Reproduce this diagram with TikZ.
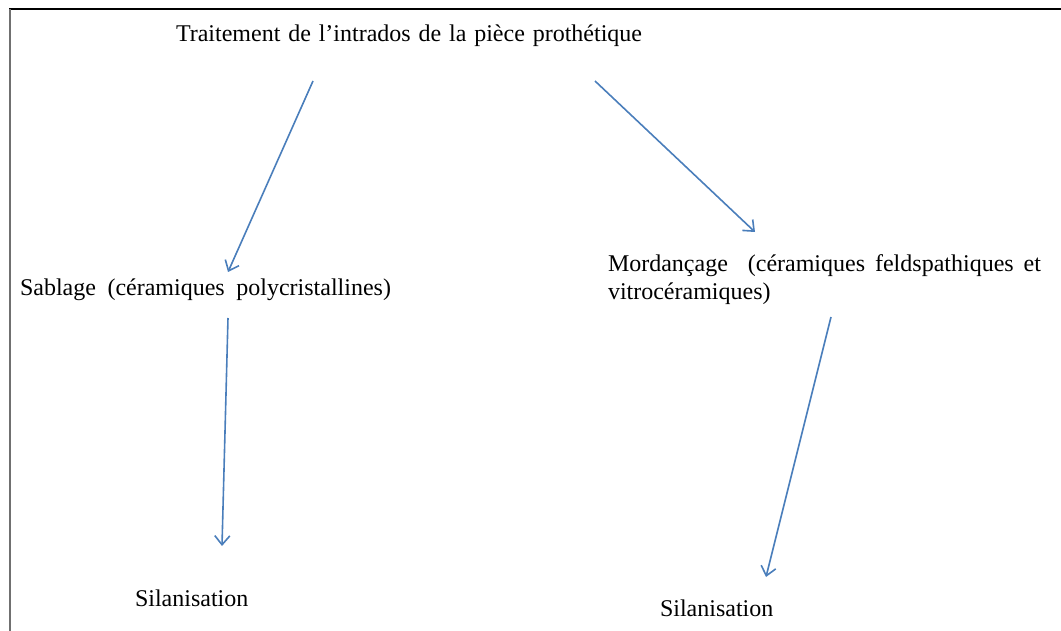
\documentclass[tikz,border=0pt]{standalone}
\usepackage{fontspec}
\setmainfont{Liberation Serif}
\usetikzlibrary{arrows.meta}
\definecolor{arrowblue}{HTML}{4A7EBB}
\definecolor{framegray}{HTML}{707070}
\begin{document}
\begin{tikzpicture}[x=1pt,y=-1pt,
  lbl/.style={anchor=base west,inner sep=0pt,outer sep=0pt,font=\fontsize{24pt}{28pt}\selectfont},
  conn/.style={draw=arrowblue,line width=1.6pt,-{Straight Barb[length=9pt,width=15pt,line width=1.6pt]}}]
\useasboundingbox (0,0) rectangle (1061,631);
% frame
\draw[black,line width=2pt] (9,9.5) -- (1061,9.5);
\draw[framegray,line width=2pt] (9.5,9) -- (9.5,631);
% texts
\node[lbl] (title) at (176,42) {\makebox[466pt][s]{Traitement de l’intrados de la pièce prothétique}};
\node[lbl] (sab) at (20,296) {\makebox[371pt][s]{Sablage (céramiques polycristallines)}};
\node[lbl] (mord) at (608,272) {\makebox[433pt][s]{Mordançage \ (céramiques feldspathiques et}};
\node[lbl] (vitro) at (608,300) {vitrocéramiques)};
\node[lbl] (sil1) at (135,606) {Silanisation};
\node[lbl] (sil2) at (660,616) {Silanisation};
% connector ends
\coordinate (a1s) at (313,81);  \coordinate (a1e) at (228,272);
\coordinate (a2s) at (595,81);  \coordinate (a2e) at (755,232);
\coordinate (a3s) at (228,318); \coordinate (a3e) at (222,546);
\coordinate (a4s) at (831,317); \coordinate (a4e) at (766,577);
\draw[conn] (a1s) -- (a1e);
\draw[conn] (a2s) -- (a2e);
\draw[conn] (a3s) -- (a3e);
\draw[conn] (a4s) -- (a4e);
\end{tikzpicture}
\end{document}
